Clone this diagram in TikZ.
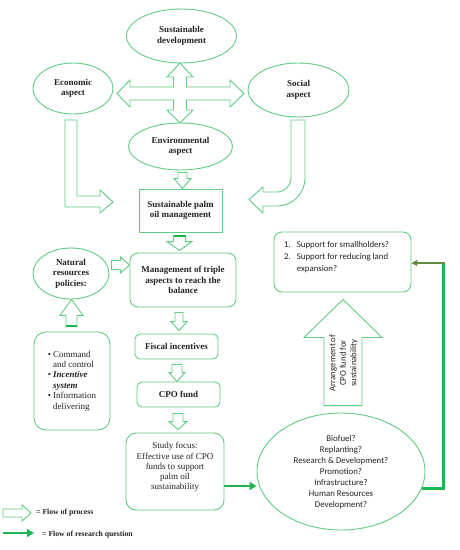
\documentclass[tikz,border=0pt]{standalone}
\usepackage{fontspec}
\setmainfont{Liberation Serif}
\newfontfamily\carl{Carlito}
\usetikzlibrary{shapes.geometric,calc,arrows.meta}
\definecolor{lg}{RGB}{95,205,130}
\definecolor{dg}{RGB}{30,180,80}
\definecolor{og}{RGB}{95,140,65}
\definecolor{tx}{RGB}{35,35,35}
\newcommand\bdown[5]{\draw[blk] let \p1=#1, \p2=#2 in (\x1-#3,\y1) -- (\x1+#3,\y1) -- (\x1+#3,\y2+#5) -- (\x1+#4,\y2+#5) -- (\x1,\y2) -- (\x1-#4,\y2+#5) -- (\x1-#3,\y2+#5) -- cycle;}
\newcommand\bup[5]{\draw[blk] let \p1=#1, \p2=#2 in (\x1-#3,\y1) -- (\x1+#3,\y1) -- (\x1+#3,\y2-#5) -- (\x1+#4,\y2-#5) -- (\x1,\y2) -- (\x1-#4,\y2-#5) -- (\x1-#3,\y2-#5) -- cycle;}
\newcommand\bright[5]{\draw[blk] let \p1=#1, \p2=#2 in (\x1,\y1+#3) -- (\x2-#5,\y1+#3) -- (\x2-#5,\y1+#4) -- (\x2,\y1) -- (\x2-#5,\y1-#4) -- (\x2-#5,\y1-#3) -- (\x1,\y1-#3) -- cycle;}
\tikzset{
  blk/.style={draw=lg, line width=0.9pt, fill=white, line join=miter},
  ell/.style={ellipse, draw=lg, line width=0.9pt, inner sep=0pt, text=tx, align=center, font=\bfseries\fontsize{9}{10.6}\selectfont},
  rect/.style={rectangle, draw=lg, line width=0.9pt, inner sep=0pt, text=tx, align=center, font=\bfseries\fontsize{9}{10.2}\selectfont},
  rbox/.style={rect, rounded corners=#1},
  rbox/.default=6pt,
  plain/.style={text=tx, inner sep=0pt, align=center, font=\fontsize{9}{10.2}\selectfont},
  sans/.style={text=tx, inner sep=0pt, align=center, font=\carl\fontsize{8.8}{11}\selectfont},
  garrow/.style={draw=dg, line width=2.4pt, -{Triangle[length=7pt,width=8pt]}},
  legtext/.style={text=tx, inner sep=0pt, anchor=west, font=\bfseries\fontsize{7.7}{9}\selectfont}
}
\begin{document}
\begin{tikzpicture}[x=1pt,y=-1pt]
\useasboundingbox[fill=white] (0,0) rectangle (459,550);

% ellipses
\node[ell, minimum width=110pt, minimum height=54pt] (sd) at (181.5,36) {Sustainable\\development};
\node[ell, minimum width=80pt, minimum height=51pt] (econ) at (73,88.5) {Economic\\aspect};
\node[ell, minimum width=101pt, minimum height=54pt] (soc) at (298.5,90) {Social\\aspect};
\node[ell, minimum width=104pt, minimum height=47pt] (env) at (180.5,146.5) {Environmental\\aspect};
\node[ell, minimum width=76pt, minimum height=51pt] (nrp) at (71,273.5) {Natural\\resources\\policies:};

% boxes
\node[rect, minimum width=83pt, minimum height=43pt] (spom) at (180.5,210.5) {Sustainable palm\\oil management};
\node[rbox=8pt, minimum width=106pt, minimum height=54pt] (mta) at (183,280) {Management of triple\\aspects to reach the\\balance};
\node[rbox=5pt, minimum width=83pt, minimum height=25pt] (fis) at (176.5,346.5) {Fiscal incentives};
\node[rbox=5pt, minimum width=83pt, minimum height=25pt] (cpo) at (178.5,394.5) {CPO fund};
\node[rbox=10pt, minimum width=98pt, minimum height=77pt] (study) at (175,471.5) {};
\node[plain] (studytxt) at (175,467) {Study focus:\\Effective use of CPO\\funds to support\\palm oil\\sustainability};
\node[rbox=12pt, minimum width=76pt, minimum height=98pt, font=\fontsize{9}{10.4}\selectfont, align=left] (bul) at (72,381)
  {\begin{tabular}{@{}l@{\hspace{2pt}}l@{}}
  \textbullet & Command\\ & and control\\
  \textbullet & \textbf{\textit{Incentive}}\\ & \textbf{\textit{system}}\\
  \textbullet & Information\\ & delivering
  \end{tabular}};
\node[rbox=8pt, minimum width=137pt, minimum height=60pt] (q) at (342.5,262) {};
\node[sans, anchor=north west, align=left, font=\carl\fontsize{8.8}{11.7}\selectfont] (qtxt) at (284,239.4)
  {\begin{tabular}{@{}l@{\hspace{6pt}}l@{}}
  1. & Support for smallholders?\\
  2. & Support for reducing land\\
     & expansion?
  \end{tabular}};
\node[ellipse, draw=lg, line width=0.9pt, inner sep=0pt, minimum width=168pt, minimum height=117pt] (ell2) at (341,471.5) {};
\node[sans] (ell2txt) at (341,471.8) {Biofuel?\\Replanting?\\Research \& Development?\\Promotion?\\Infrastructure?\\Human Resources\\Development?};

% four-way arrow
\draw[blk] (180,63) -- (193,77) -- (186.5,77) -- (186.5,87) -- (230,87) -- (230,80) -- (244,93.5) -- (230,107) -- (230,100) -- (186.5,100) -- (186.5,110) -- (193,110) -- (180,123) -- (167,110) -- (173.5,110) -- (173.5,100) -- (130,100) -- (130,107) -- (117,93.5) -- (130,80) -- (130,87) -- (173.5,87) -- (173.5,77) -- (167,77) -- cycle;

% economic L arrow
\draw[blk] (65,120) -- (65,207) -- (100,207) -- (100,213) -- (113,202) -- (100,190) -- (100,196) -- (77,196) -- (77,120) -- cycle;
% social curved arrow
\draw[blk] (291,120) -- (305,120) -- (305,178) .. controls (305,193.5) and (292.5,206) .. (277,206) -- (263,206) -- (263,213) -- (249,199.5) -- (263,187) -- (263,192) -- (277,192) .. controls (284.7,192) and (291,185.7) .. (291,178) -- cycle;

% small block arrows
\bdown{($(env.south)+(2,2)$)}{(spom.north)}{4.5}{8.5}{10}
\bdown{($(spom.south)+(-1,3)$)}{($(mta.north)+(0,-2)$)}{6}{12.5}{9}
\draw[draw=dg, line width=2pt] ($(spom.south)+(-7,4)$) -- ($(spom.south)+(5,4)$);
\bdown{($(mta.south)+(-4,5)$)}{($(fis.north)+(0,-3)$)}{4}{8}{9}
\bdown{($(fis.south)+(0.5,5)$)}{(cpo.north)}{5}{8}{9}
\bdown{($(cpo.south)+(-0.5,6)$)}{($(study.north)+(0,-3)$)}{5}{9}{8}
\bup{($(bul.north)+(-0.5,-5)$)}{(nrp.south)}{5.5}{11.5}{16}
\draw[draw=dg, line width=2pt] ($(bul.north)+(-6,-6)$) -- ($(bul.north)+(5,-6)$);
\bright{($(nrp.east)+(2,-8.5)$)}{($(mta.west)+(0,-15)$)}{4.5}{8}{9}

% big up arrow
\bup{($(ell2.north)+(2,-7)$)}{($(q.south)+(0,7)$)}{19}{39}{38}
\node[sans, rotate=90, font=\carl\fontsize{8.8}{10.5}\selectfont] (arrtxt) at (343.5,363) {Arrangement of\\CPO fund for\\sustainability};

% research question arrows
\coordinate (sa) at ($(study.east)+(0,14.5)$);
\draw[garrow] (sa) -- (sa -| ell2.west);
\coordinate (ea) at (ell2.-12);
\coordinate (turn) at (443,263);
\draw[draw=dg, line width=3pt, line join=miter] (ea) -- (ea -| turn) -- (turn);
\draw[draw=og, line width=1.6pt, -{Triangle[length=6pt,width=6pt]}] ($(turn)+(1.5,0)$) -- (turn -| q.east);

% legend
\coordinate (l1a) at (3,513);
\coordinate (l1b) at (31,513);
\bright{(l1a)}{(l1b)}{4}{8}{9}
\node[legtext] (leg1) at (36,513) {= Flow of process};
\coordinate (l2a) at (3,533);
\coordinate (l2b) at (34,533);
\draw[garrow, line width=2pt] (l2a) -- (l2b);
\node[legtext] (leg2) at (42,535) {= Flow of research question};
\end{tikzpicture}
\end{document}
